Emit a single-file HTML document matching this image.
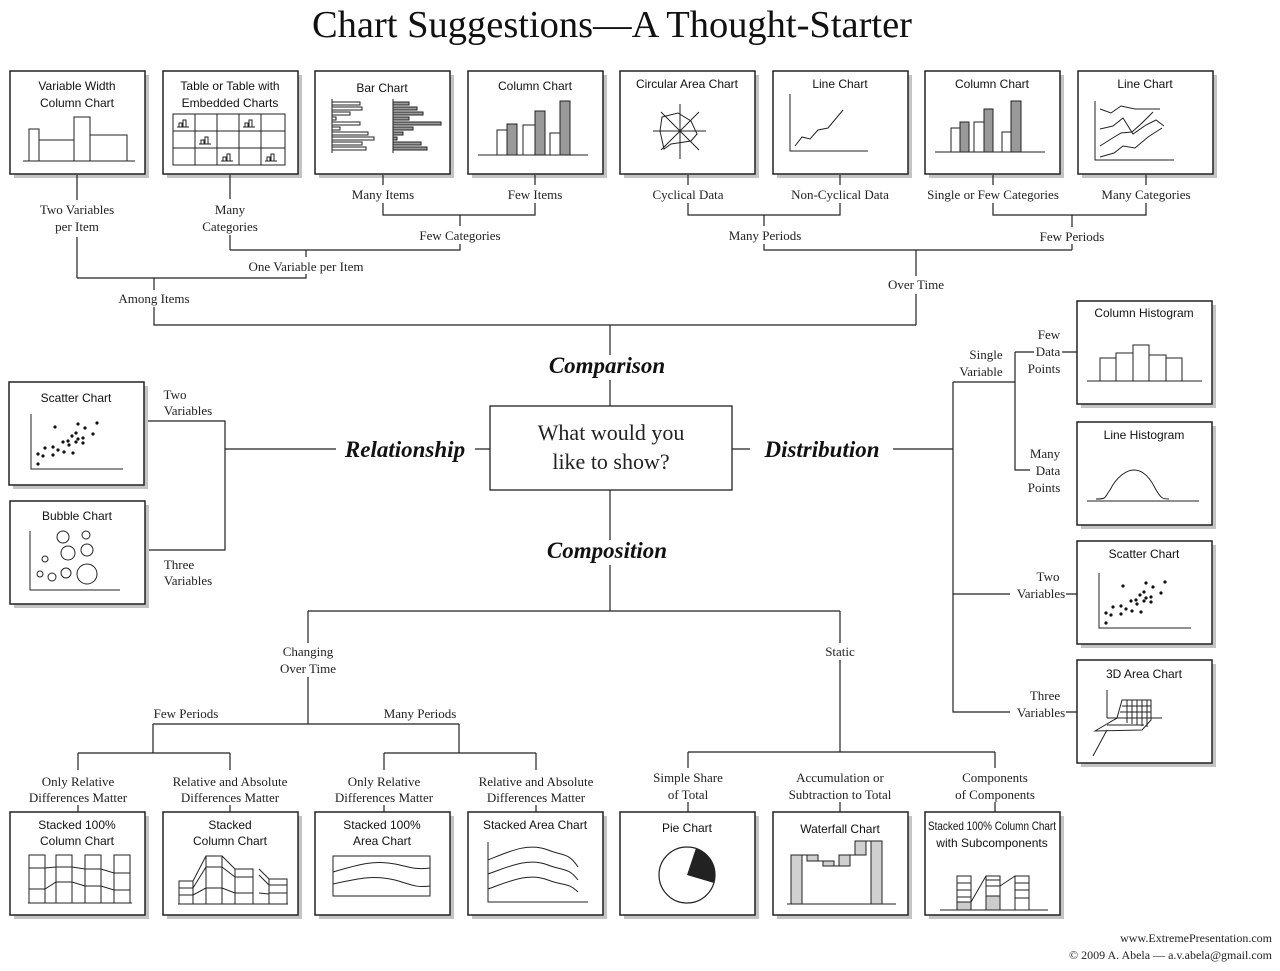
<!DOCTYPE html>
<html><head><meta charset="utf-8"><style>
html,body{margin:0;padding:0;background:#fff}
svg{display:block}
.t{font-family:"Liberation Sans Narrow","Liberation Sans",sans-serif;font-size:12px;text-anchor:middle;fill:#111}
.l{font-family:"Liberation Serif",serif;font-size:13px;text-anchor:middle;fill:#222}
.h{font-family:"Liberation Serif",serif;font-size:23px;font-style:italic;font-weight:bold;text-anchor:middle;fill:#111}
.ln{stroke:#222;stroke-width:1.2;fill:none}
.c{stroke:#222;stroke-width:1;fill:none}
.g{fill:#999;stroke:#222;stroke-width:1}
.w{fill:#fff;stroke:#222;stroke-width:1}
</style></head><body>
<svg width="1280" height="971" viewBox="0 0 1280 971" xmlns="http://www.w3.org/2000/svg">
<defs>
<g id="bx"><rect x="4" y="4" width="135" height="103" fill="#c4c4c4"/><rect x="0" y="0" width="135" height="103" fill="#fff" stroke="#222" stroke-width="1.5"/></g>
<g id="sc"><path class="c" d="M22 32V87H114"/>
<g fill="#111"><circle cx="29" cy="82" r="1.6"/><circle cx="29" cy="72" r="1.6"/><circle cx="34" cy="74" r="1.6"/><circle cx="36" cy="66" r="1.6"/><circle cx="44" cy="65" r="1.6"/><circle cx="44" cy="73" r="1.6"/><circle cx="49" cy="68" r="1.6"/><circle cx="46" cy="45" r="1.6"/><circle cx="54" cy="60" r="1.6"/><circle cx="55" cy="70" r="1.6"/><circle cx="59" cy="59" r="1.6"/><circle cx="60" cy="63" r="1.6"/><circle cx="63" cy="54" r="1.6"/><circle cx="64" cy="71" r="1.6"/><circle cx="67" cy="51" r="1.6"/><circle cx="67" cy="60" r="1.6"/><circle cx="69" cy="57" r="1.6"/><circle cx="69" cy="42" r="1.6"/><circle cx="74" cy="56" r="1.6"/><circle cx="74" cy="61" r="1.6"/><circle cx="76" cy="46" r="1.6"/><circle cx="84" cy="52" r="1.6"/><circle cx="88" cy="41" r="1.6"/></g></g>
<g id="mb"><path class="c" d="M0 8H12M2 8V4H5V8M6 8V1H9V8" stroke-width="0.8"/></g>
</defs>

<text x="612" y="37" font-family="Liberation Serif,serif" font-size="38" text-anchor="middle" fill="#111" textLength="600" lengthAdjust="spacingAndGlyphs">Chart Suggestions—A Thought-Starter</text>

<!-- TOP ROW -->
<g transform="translate(10,71)"><use href="#bx"/><text class="t" x="67" y="19">Variable Width</text><text class="t" x="67" y="36">Column Chart</text>
<path class="c" d="M13 90H125M19 90V58H29V90M29 69H64V90M64 90V46H80V90M80 64H117V90"/></g>
<g transform="translate(163,71)"><use href="#bx"/><text class="t" x="67" y="19">Table or Table with</text><text class="t" x="67" y="36">Embedded Charts</text>
<path class="c" d="M10 43H122V94H10Z M10 60H122M10 77H122M32 43V94M54 43V94M76 43V94M98 43V94"/>
<use href="#mb" x="14" y="48"/><use href="#mb" x="80" y="48"/><use href="#mb" x="36" y="65"/><use href="#mb" x="58" y="82"/><use href="#mb" x="102" y="82"/></g>
<g transform="translate(315,71)"><use href="#bx"/><text class="t" x="67" y="21">Bar Chart</text>
<path class="c" d="M17 28V82M78 28V82"/>
<g class="w" stroke-width="0.8"><rect x="17" y="31" width="28" height="3"/><rect x="17" y="36" width="30" height="3"/><rect x="17" y="41" width="18" height="3"/><rect x="17" y="46" width="4" height="3"/><rect x="17" y="51" width="28" height="3"/><rect x="17" y="56" width="8" height="3"/><rect x="17" y="61" width="36" height="3"/><rect x="17" y="66" width="42" height="3"/><rect x="17" y="71" width="30" height="3"/><rect x="17" y="76" width="34" height="3"/></g>
<g class="g" stroke-width="0.8"><rect x="78" y="31" width="16" height="3"/><rect x="78" y="36" width="24" height="3"/><rect x="78" y="41" width="30" height="3"/><rect x="78" y="46" width="16" height="3"/><rect x="78" y="51" width="48" height="3"/><rect x="78" y="56" width="20" height="3"/><rect x="78" y="61" width="10" height="3"/><rect x="78" y="66" width="4" height="3"/><rect x="78" y="71" width="28" height="3"/><rect x="78" y="76" width="34" height="3"/></g></g>
<g transform="translate(468,71)"><use href="#bx"/><text class="t" x="67" y="19">Column Chart</text>
<rect class="w" x="29" y="59" width="10" height="25"/><rect class="g" x="39" y="53" width="10" height="31"/><rect class="w" x="55" y="54" width="12" height="30"/><rect class="g" x="67" y="40" width="10" height="44"/><rect class="w" x="82" y="62" width="10" height="22"/><rect class="g" x="92" y="30" width="10" height="54"/><path class="c" d="M10 84H120"/></g>
<g transform="translate(620,71)"><use href="#bx"/><text class="t" x="67" y="17">Circular Area Chart</text>
<path class="c" d="M33 60H86M60 33V88M41 41L79 79M79 41L41 79"/><path class="c" d="M42 46L58 42L71 50L77 63L71 70L51 73L44 78L40 60Z" stroke-width="1.3"/></g>
<g transform="translate(773,71)"><use href="#bx"/><text class="t" x="67" y="17">Line Chart</text>
<path class="c" d="M17 23V80H95"/><path class="c" d="M22 75L29 66L37 68L45 59L55 57L70 39"/></g>
<g transform="translate(925,71)"><use href="#bx"/><text class="t" x="67" y="17">Column Chart</text>
<rect class="w" x="26" y="57" width="9" height="24"/><rect class="g" x="35" y="51" width="9" height="30"/><rect class="w" x="49" y="51" width="10" height="30"/><rect class="g" x="59" y="38" width="9" height="43"/><rect class="w" x="77" y="61" width="9" height="20"/><rect class="g" x="86" y="30" width="10" height="51"/><path class="c" d="M10 81H120"/></g>
<g transform="translate(1078,71)"><use href="#bx"/><text class="t" x="67" y="17">Line Chart</text>
<path class="c" d="M17 30V89H96"/><path class="c" d="M22 38L33 42L43 35L57 38L82 38M22 58L35 55L45 47L55 63L68 54L78 49L86 55M22 75L33 68L43 62L54 61L64 52L75 41M22 86L36 82L45 75L57 77L70 66L84 57"/></g>

<!-- TOP CONNECTORS -->
<path class="ln" d="M77 175V200M77 237V278M230 175V199M230 235V250M383 175V185M383 203V215H535V203M535 175V185M460 215V226M460 244V250H230M306 250V257M77 278H306V274M154 278V290M154 307V325H916M610 325V355"/>
<path class="ln" d="M688 175V185M688 203V215H840V203M840 175V185M764 215V226M764 244V250H1072M1072 244V250M993 175V185M993 203V215H1146V203M1146 175V185M1072 215V227M916 250V276M916 294V325"/>
<text class="l" x="77" y="214">Two Variables</text><text class="l" x="77" y="231">per Item</text>
<text class="l" x="230" y="214">Many</text><text class="l" x="230" y="231">Categories</text>
<text class="l" x="383" y="199">Many Items</text><text class="l" x="535" y="199">Few Items</text>
<text class="l" x="460" y="240">Few Categories</text>
<text class="l" x="306" y="271">One Variable per Item</text>
<text class="l" x="154" y="303">Among Items</text>
<text class="l" x="688" y="199">Cyclical Data</text><text class="l" x="840" y="199">Non-Cyclical Data</text>
<text class="l" x="765" y="240">Many Periods</text>
<text class="l" x="993" y="199">Single or Few Categories</text><text class="l" x="1146" y="199">Many Categories</text>
<text class="l" x="1072" y="241">Few Periods</text>
<text class="l" x="916" y="289">Over Time</text>

<!-- CENTER -->
<text class="h" x="607" y="373">Comparison</text>
<path class="ln" d="M610 380V406"/>
<rect x="490" y="406" width="242" height="84" fill="#fff" stroke="#222" stroke-width="1.3"/>
<text x="611" y="440" font-family="Liberation Serif,serif" font-size="22" text-anchor="middle" fill="#222">What would you</text>
<text x="611" y="469" font-family="Liberation Serif,serif" font-size="22" text-anchor="middle" fill="#222">like to show?</text>
<text class="h" x="405" y="457">Relationship</text>
<path class="ln" d="M475 449H490M225 449H336M145 421H225V550H145"/>
<text class="l" x="175" y="399">Two</text><text class="l" x="188" y="415">Variables</text>
<text class="l" x="179" y="569">Three</text><text class="l" x="188" y="585">Variables</text>
<g transform="translate(9,382)"><use href="#bx"/><text class="t" x="67" y="20">Scatter Chart</text><use href="#sc"/></g>
<g transform="translate(10,501)"><use href="#bx"/><text class="t" x="67" y="19">Bubble Chart</text>
<path class="c" d="M20 30V89H110"/><g class="c"><circle cx="53" cy="36" r="6"/><circle cx="76" cy="34" r="4"/><circle cx="58" cy="52" r="7"/><circle cx="77" cy="49" r="6"/><circle cx="35" cy="58" r="3"/><circle cx="30" cy="73" r="3"/><circle cx="42" cy="76" r="4"/><circle cx="56" cy="72" r="5"/><circle cx="77" cy="73" r="10"/></g></g>

<text class="h" x="822" y="457">Distribution</text>
<path class="ln" d="M732 449H750M893 449H953M953 382V712H1010M953 382H1015M1015 352V470H1030M1015 352H1034M1062 352H1077M953 594H1010M1066 594H1077M1066 712H1077"/>
<text class="l" x="986" y="359">Single</text><text class="l" x="981" y="376">Variable</text>
<text class="l" x="1049" y="339">Few</text><text class="l" x="1048" y="356">Data</text><text class="l" x="1044" y="373">Points</text>
<text class="l" x="1045" y="458">Many</text><text class="l" x="1048" y="475">Data</text><text class="l" x="1044" y="492">Points</text>
<text class="l" x="1048" y="581">Two</text><text class="l" x="1041" y="598">Variables</text>
<text class="l" x="1045" y="700">Three</text><text class="l" x="1041" y="717">Variables</text>
<g transform="translate(1077,301)"><use href="#bx"/><text class="t" x="67" y="16">Column Histogram</text>
<path class="c" d="M10 80H125M23 80V57H39V80M39 80V52H56V80M56 80V44H72V80M72 80V54H89V80M89 80V57H105V80"/></g>
<g transform="translate(1077,422)"><use href="#bx"/><text class="t" x="67" y="17">Line Histogram</text>
<path class="c" d="M10 79H122M19 77C30 77 27 76 33 68C40 54 50 48 57 48C66 48 73 56 78 66C84 77 86 77 92 77"/></g>
<g transform="translate(1077,541)"><use href="#bx"/><text class="t" x="67" y="17">Scatter Chart</text><use href="#sc"/></g>
<g transform="translate(1077,660)"><use href="#bx"/><text class="t" x="67" y="18">3D Area Chart</text>
<path class="c" d="M30 30V58M30 58H85M30 70L16 96"/><path class="c" d="M18 71L40 58L45 40H74V60L65 70Z"/><path class="c" d="M50 40V63M55 40V64M60 40V65M65 40V66M70 40V67M45 46H74M43 52H74M42 58H74M30 65H67" stroke-width="0.6"/></g>

<!-- COMPOSITION -->
<text class="h" x="607" y="558">Composition</text>
<path class="ln" d="M610 490V540M610 565V611M308 611H840M308 611V643M308 677V724M153 724H459M153 724V753M459 724V753M78 753H230M384 753H536M78 753V770M230 753V770M384 753V770M536 753V770M78 805V812M230 805V812M384 805V812M536 805V812M840 611V643M840 660V752M688 752H995M688 752V768M995 752V768M688 802V812M840 802V812M995 802V812"/>
<text class="l" x="308" y="656">Changing</text><text class="l" x="308" y="673">Over Time</text>
<text class="l" x="840" y="656">Static</text>
<text class="l" x="186" y="718">Few Periods</text><text class="l" x="420" y="718">Many Periods</text>
<text class="l" x="78" y="786">Only Relative</text><text class="l" x="78" y="802">Differences Matter</text>
<text class="l" x="230" y="786">Relative and Absolute</text><text class="l" x="230" y="802">Differences Matter</text>
<text class="l" x="384" y="786">Only Relative</text><text class="l" x="384" y="802">Differences Matter</text>
<text class="l" x="536" y="786">Relative and Absolute</text><text class="l" x="536" y="802">Differences Matter</text>
<text class="l" x="688" y="782">Simple Share</text><text class="l" x="688" y="799">of Total</text>
<text class="l" x="840" y="782">Accumulation or</text><text class="l" x="840" y="799">Subtraction to Total</text>
<text class="l" x="995" y="782">Components</text><text class="l" x="995" y="799">of Components</text>

<g transform="translate(10,812)"><use href="#bx"/><text class="t" x="67" y="17">Stacked 100%</text><text class="t" x="67" y="33">Column Chart</text>
<path class="c" d="M18 91H122M19 43H35V91H19ZM46 43H62V91H46ZM75 43H91V91H75ZM104 43H120V91H104ZM19 56H35L46 55H62L75 57H91L104 61H120M19 77H35L46 70H62L75 74H91L104 78H120"/></g>
<g transform="translate(163,812)"><use href="#bx"/><text class="t" x="67" y="17">Stacked</text><text class="t" x="67" y="33">Column Chart</text>
<path class="c" d="M15 92H125M16 69H30V92H16ZM43 44H59V92H43ZM72 57H90V92H72ZM106 67H124V92H106ZM16 76H30M16 83H30M43 55H59M43 76H59M72 65H90M72 81H90M106 73H124M106 81H124M30 69L43 44M30 76L43 55M30 83L43 76M59 44L72 57M59 55L72 65M59 76L72 81M96 57L106 67M96 63L106 73M96 81L106 82"/></g>
<g transform="translate(315,812)"><use href="#bx"/><text class="t" x="67" y="17">Stacked 100%</text><text class="t" x="67" y="33">Area Chart</text>
<path class="c" d="M18 44H115V84H18ZM18 60C45 52 60 48 80 52C95 55 100 58 115 56M18 72C45 66 60 63 80 68C95 72 100 76 115 74"/></g>
<g transform="translate(468,812)"><use href="#bx"/><text class="t" x="67" y="17">Stacked Area Chart</text>
<path class="c" d="M20 30V90H120M20 48C40 40 60 30 80 38C95 44 100 40 110 55M20 62C40 55 60 45 80 53C95 59 100 55 110 68M20 77C40 70 60 60 80 68C95 74 100 70 110 80"/></g>
<g transform="translate(620,812)"><use href="#bx"/><text class="t" x="67" y="20">Pie Chart</text>
<circle cx="67" cy="63" r="28" fill="#fff" stroke="#222" stroke-width="1.2"/><path d="M67 63L76 36A28 28 0 0 1 94 71Z" fill="#222"/></g>
<g transform="translate(773,812)"><use href="#bx"/><text class="t" x="67" y="21">Waterfall Chart</text>
<path class="c" d="M14 92H123"/><rect x="18" y="43" width="11" height="49" fill="#d0d0d0" stroke="#222"/><rect x="34" y="43" width="11" height="6" fill="#d0d0d0" stroke="#222"/><rect x="50" y="49" width="11" height="5" fill="#d0d0d0" stroke="#222"/><rect x="66" y="43" width="11" height="11" fill="#d0d0d0" stroke="#222"/><rect x="82" y="29" width="11" height="14" fill="#d0d0d0" stroke="#222"/><rect x="98" y="29" width="11" height="63" fill="#d0d0d0" stroke="#222"/><path class="c" d="M29 43H34M45 49H50M61 54H66M77 43H82M93 29H98"/></g>
<g transform="translate(925,812)"><use href="#bx"/><text class="t" x="67" y="18" textLength="128" lengthAdjust="spacingAndGlyphs">Stacked 100% Column Chart</text><text class="t" x="67" y="35">with Subcomponents</text>
<path class="c" d="M15 98H123"/><rect x="32" y="64" width="14" height="34" fill="#fff" stroke="#222"/><rect x="32" y="90" width="14" height="8" fill="#ccc" stroke="#222"/><rect x="61" y="64" width="14" height="34" fill="#fff" stroke="#222"/><rect x="61" y="84" width="14" height="14" fill="#ccc" stroke="#222"/><rect x="90" y="64" width="14" height="34" fill="#fff" stroke="#222"/><path class="c" d="M32 71H46M32 78H46M32 85H46M61 68H75M61 74H75M90 71H104M90 78H104M90 86H104M46 90L61 64M75 74L90 64"/></g>

<text x="1272" y="942" font-family="Liberation Serif,serif" font-size="12" text-anchor="end" fill="#222">www.ExtremePresentation.com</text>
<text x="1272" y="959" font-family="Liberation Serif,serif" font-size="12" text-anchor="end" fill="#222">© 2009  A. Abela — a.v.abela@gmail.com</text>
</svg>
</body></html>
